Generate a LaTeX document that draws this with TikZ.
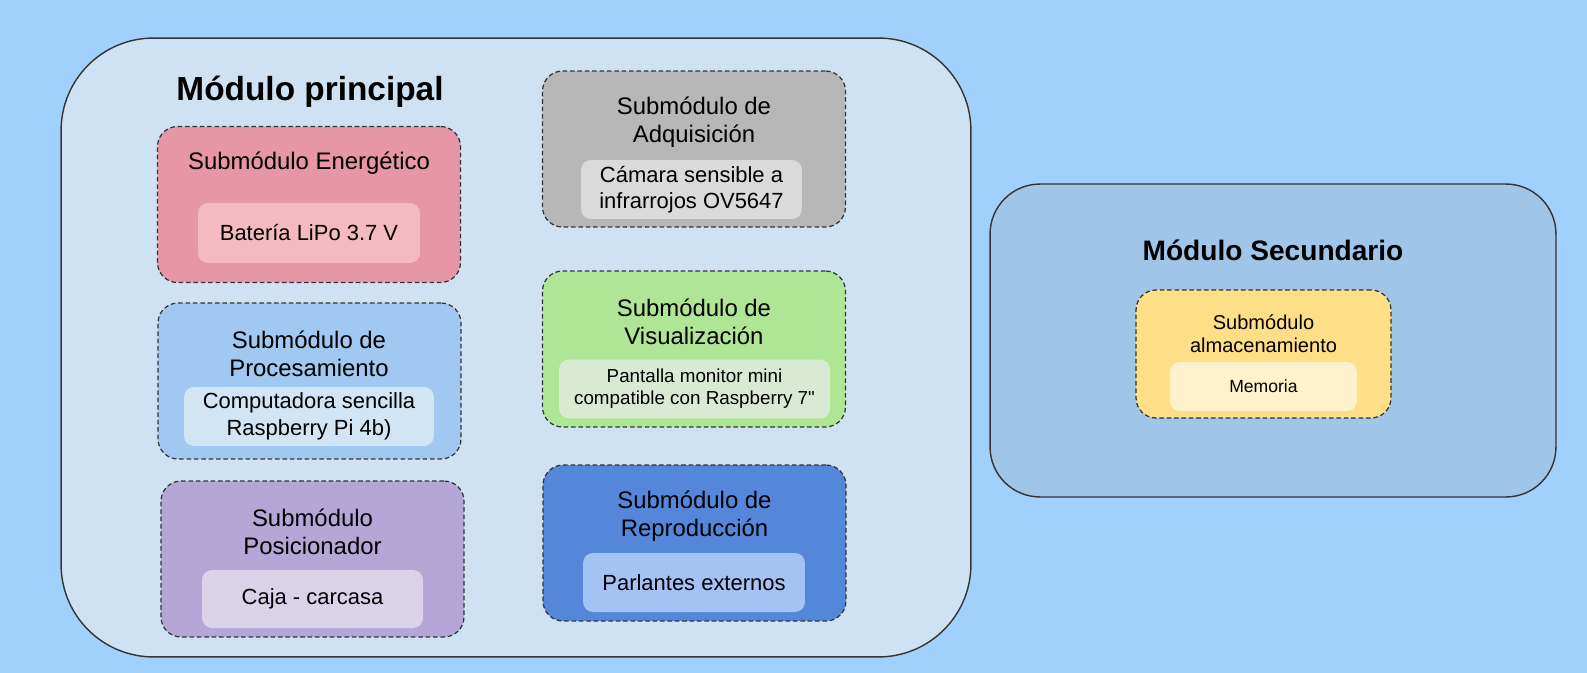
\documentclass[tikz,border=0pt]{standalone}
\usepackage{fontspec}
\setmainfont{Liberation Sans}[Ligatures=TeXOff]
\usepackage{xcolor}
\definecolor{fondo}{HTML}{A1D0FD}
\definecolor{principal}{HTML}{CFE2F3}
\definecolor{secundario}{HTML}{9FC5E8}
\definecolor{energia}{HTML}{E696A6}
\definecolor{energiaIn}{HTML}{F5B9C2}
\definecolor{proceso}{HTML}{A0C8F0}
\definecolor{procesoIn}{HTML}{D2E5F5}
\definecolor{posicion}{HTML}{B4A7D6}
\definecolor{posicionIn}{HTML}{D9D2E9}
\definecolor{adquis}{HTML}{B7B7B7}
\definecolor{adquisIn}{HTML}{DADADA}
\definecolor{visual}{HTML}{AEE695}
\definecolor{visualIn}{HTML}{D9EAD3}
\definecolor{reprod}{HTML}{5486DA}
\definecolor{reprodIn}{HTML}{A4C2F4}
\definecolor{almacen}{HTML}{FFDE88}
\definecolor{almacenIn}{HTML}{FFF1CC}

\begin{document}
\begin{tikzpicture}[x=0.02cm, y=-0.02cm,
        modulo/.style={draw=black!80, line width=0.8pt, inner sep=0pt},
        submodulo/.style={draw=black!80, line width=0.7pt, dash pattern=on 2.6pt off 1.6pt,
                rounded corners=0.4cm, minimum width=6.06cm, minimum height=3.12cm, inner sep=0pt},
        caja/.style={rounded corners=0.2cm, minimum height=1.18cm, inner sep=0pt, align=center,
                font=\fontsize{12.5}{15.1}\selectfont},
        titulo/.style={font=\bfseries\fontsize{19}{22}\selectfont},
        subtitulo/.style={align=center, font=\fontsize{13.6}{15.9}\selectfont}]

        \useasboundingbox (0,0) rectangle (1587,673);
        \fill[fondo] (0,0) rectangle (1587,673);

        % modulos
        \node[modulo, fill=principal, rounded corners=1.85cm, minimum width=18.2cm, minimum height=12.38cm] (mprincipal) at (516,347.5) {};
        \node[modulo, fill=secundario, rounded corners=1cm, minimum width=11.32cm, minimum height=6.26cm] (msecundario) at (1273,340.5) {};

        \node[titulo] (tprincipal) at (310,92) {Módulo principal};
        \node[titulo, font=\bfseries\fontsize{16}{19}\selectfont] (tsecundario) at (1273,250) {Módulo Secundario};

        % submodulos
        \node[submodulo, fill=energia] (energetico) at (309,204.5) {};
        \node[submodulo, fill=proceso] (procesamiento) at (309.5,381) {};
        \node[submodulo, fill=posicion] (posicionador) at (312.5,559) {};
        \node[submodulo, fill=adquis] (adquisicion) at (694,149) {};
        \node[submodulo, fill=visual] (visualizacion) at (694,349) {};
        \node[submodulo, fill=reprod] (reproduccion) at (694.5,543) {};
        \node[submodulo, fill=almacen, minimum width=5.1cm, minimum height=2.56cm] (almacenamiento) at (1263.5,354) {};

        \node[subtitulo] (tenergetico) at (309,163) {Submódulo Energético};
        \node[subtitulo] (tprocesamiento) at (309,354) {Submódulo de\\Procesamiento};
        \node[subtitulo] (tposicionador) at (312.5,532) {Submódulo\\Posicionador};
        \node[subtitulo] (tadquisicion) at (694,122.5) {Submódulo de\\Adquisición};
        \node[subtitulo] (tvisualizacion) at (694,322) {Submódulo de\\Visualización};
        \node[subtitulo] (treproduccion) at (694.5,516) {Submódulo de\\Reproducción};
        \node[subtitulo, font=\fontsize{11.4}{13.1}\selectfont] (talmacenamiento) at (1263.5,333.5) {Submódulo\\almacenamiento};

        % componentes
        \node[caja, fill=energiaIn, minimum width=4.44cm, minimum height=1.2cm] (bateria) at (309,233) {Batería LiPo 3.7 V};
        \node[caja, fill=procesoIn, minimum width=5cm] (computadora) at (309,416.5) {Computadora sencilla\\Raspberry Pi 4b)};
        \node[caja, fill=posicionIn, minimum width=4.42cm, minimum height=1.16cm] (carcasa) at (312.5,599) {Caja - carcasa};
        \node[caja, fill=adquisIn, minimum width=4.42cm] (camara) at (691.5,189.5) {Cámara sensible a\\infrarrojos OV5647};
        \node[caja, fill=visualIn, minimum width=5.42cm, font=\fontsize{10.7}{12.5}\selectfont] (pantalla) at (694.5,389) {Pantalla monitor mini\\compatible con Raspberry 7"};
        \node[caja, fill=reprodIn, minimum width=4.44cm] (parlantes) at (694,582.5) {Parlantes externos};
        \node[caja, fill=almacenIn, minimum width=3.74cm, minimum height=0.98cm, font=\fontsize{10}{12}\selectfont] (memoria) at (1263.5,386.5) {Memoria};

\end{tikzpicture}
\end{document}
